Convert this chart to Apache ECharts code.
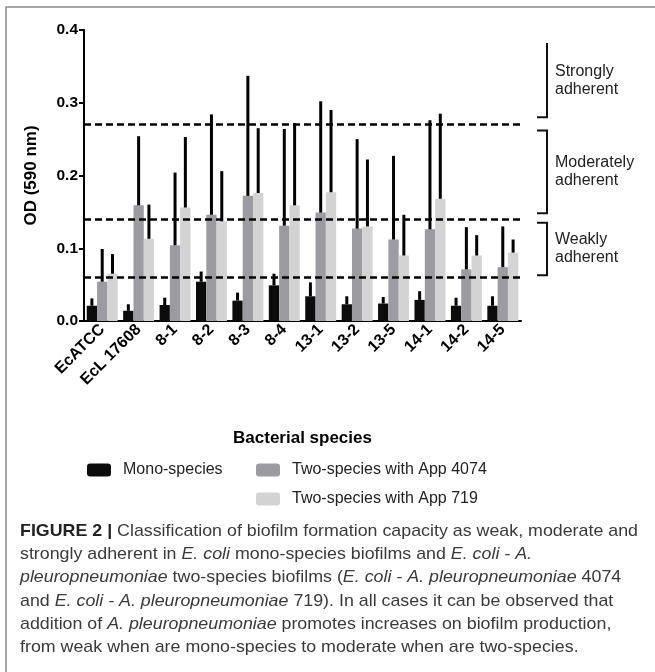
<!DOCTYPE html>
<html>

<head>
    <meta http-equiv="Content-Type" content="text/html; charset=utf-8" />
    <title>Biofilm adherence</title>
    <style type="text/css">
        html,
        body {
            margin: 0;
            padding: 0;
            background: #fff;
        }

        #chart {
            width: 655px;
            height: 672px;
        }
    </style>
    <script src="https://cdn.jsdelivr.net/npm/echarts@6.0.0/dist/echarts.min.js"></script>
</head>

<body>
    <div id="chart"></div>
    <script type="text/javascript">
        // categories on the x axis
        var species = ['EcATCC', 'EcL 17608', '8-1', '8-2', '8-3', '8-4', '13-1', '13-2', '13-5', '14-1', '14-2', '14-5'];
        var seriesNames = ['Mono-species', 'Two-species with App 4074', 'Two-species with App 719'];

        // mean OD and upper error (SD)
        var monoMean = [0.021, 0.014, 0.022, 0.054, 0.028, 0.049, 0.034, 0.023, 0.024, 0.029, 0.021, 0.021];
        var monoSd = [0.010, 0.009, 0.010, 0.014, 0.011, 0.016, 0.019, 0.011, 0.009, 0.012, 0.011, 0.013];
        var app4074Mean = [0.054, 0.159, 0.104, 0.146, 0.172, 0.131, 0.149, 0.127, 0.112, 0.126, 0.071, 0.074];
        var app4074Sd = [0.045, 0.095, 0.100, 0.138, 0.165, 0.133, 0.153, 0.123, 0.115, 0.150, 0.058, 0.056];
        var app719Mean = [0.065, 0.113, 0.156, 0.137, 0.176, 0.159, 0.177, 0.130, 0.090, 0.168, 0.090, 0.094];
        var app719Sd = [0.027, 0.047, 0.097, 0.069, 0.089, 0.113, 0.113, 0.092, 0.056, 0.117, 0.028, 0.018];

        // y axis ticks
        var yTicks = [0.0, 0.1, 0.2, 0.3, 0.4];

        // classification cut-offs (dashed lines)
        var cutoffs = [0.273, 0.141, 0.063];
        // brackets on the right
        var bracketLabels = ['Strongly\nadherent', 'Moderately\nadherent', 'Weakly\nadherent'];
        var bracketTop = [0.382, 0.262, 0.135];
        var bracketBottom = [0.280, 0.148, 0.063];
        var bracketTopFoot = [false, true, true];

        var colors = ['#0c0c0c', '#9c9ba1', '#d3d3d3'];
        var font = '"Liberation Sans", Arial, Helvetica, sans-serif';

        var chart = echarts.init(document.getElementById('chart'));

        // 误差线
        function errorSeries(name, means, sds, offset) {
            var data = [];
            for (var i = 0; i < means.length; i++) {
                data.push([i, means[i], sds[i]]);
            }
            return {
                type: 'custom',
                name: name + ' error',
                silent: true,
                z: 10,
                encode: { x: 0, y: 1 },
                data: data,
                renderItem: function (params, api) {
                    var idx = api.value(0);
                    var mean = api.value(1);
                    var sd = api.value(2);
                    var base = api.coord([idx, mean]);
                    var top = api.coord([idx, mean + sd]);
                    var band = api.size([1, 0])[0];
                    var bw = band * 0.85 / 3;
                    var x = base[0] + offset * bw;
                    return {
                        type: 'line',
                        shape: { x1: x, y1: base[1], x2: x, y2: top[1] },
                        style: { stroke: '#000', lineWidth: 3 }
                    };
                }
            };
        }

        function barSeries(name, means, color, withLines) {
            var s = {
                type: 'bar',
                name: name,
                data: means,
                barGap: '0%',
                barCategoryGap: '15%',
                itemStyle: { color: color },
                silent: true
            };
            if (withLines) {
                s.markLine = {
                    silent: true,
                    symbol: 'none',
                    label: { show: false },
                    lineStyle: { color: '#000', width: 2.5, type: [7, 4] },
                    data: cutoffs.map(function (v) { return { yAxis: v }; })
                };
            }
            return s;
        }

        var option = {
            animation: false,
            textStyle: { fontFamily: font },
            grid: { left: 84, top: 30, right: 134, bottom: 351 },
            legend: [
                {
                    data: [seriesNames[0]],
                    left: 87, top: 462, padding: 0,
                    itemWidth: 24, itemHeight: 13,
                    icon: 'roundRect',
                    textStyle: { fontSize: 16, color: '#222', padding: [0, 0, 0, 7] }
                },
                {
                    data: [seriesNames[1], seriesNames[2]],
                    orient: 'vertical',
                    left: 256, top: 462, padding: 0,
                    itemWidth: 24, itemHeight: 13, itemGap: 13,
                    icon: 'roundRect',
                    textStyle: { fontSize: 16, color: '#222', padding: [0, 0, 0, 7] }
                }
            ],
            xAxis: {
                type: 'category',
                data: species,
                name: 'Bacterial species',
                nameLocation: 'middle',
                nameGap: 109,
                nameMoveOverlap: false,
                nameTextStyle: { fontSize: 17, fontWeight: 'bold', color: '#000' },
                axisLine: { lineStyle: { color: '#000', width: 2 } },
                axisTick: { alignWithLabel: true, length: 5, lineStyle: { color: '#000', width: 2 } },
                axisLabel: { rotate: 45, fontSize: 16, fontWeight: 'bold', color: '#000', margin: 6 }
            },
            yAxis: {
                type: 'value',
                min: yTicks[0],
                max: yTicks[yTicks.length - 1],
                interval: 0.1,
                name: 'OD (590 nm)',
                nameLocation: 'middle',
                nameGap: 44,
                nameTextStyle: { fontSize: 17, fontWeight: 'bold', color: '#000' },
                axisLine: { show: true, lineStyle: { color: '#000', width: 2 } },
                axisTick: { show: true, length: 5, lineStyle: { color: '#000', width: 2 } },
                splitLine: { show: false },
                axisLabel: {
                    fontSize: 15.5, fontWeight: 'bold', color: '#000', margin: 6,
                    formatter: function (v) { return v.toFixed(1); }
                }
            },
            series: [
                barSeries(seriesNames[0], monoMean, colors[0], true),
                barSeries(seriesNames[1], app4074Mean, colors[1], false),
                barSeries(seriesNames[2], app719Mean, colors[2], false),
                errorSeries(seriesNames[0], monoMean, monoSd, -1),
                errorSeries(seriesNames[1], app4074Mean, app4074Sd, 0),
                errorSeries(seriesNames[2], app719Mean, app719Sd, 1)
            ]
        };
        chart.setOption(option);

        // 括号 + 标注
        var graphics = [];
        var bx = 547, footX = 537;
        for (var k = 0; k < bracketLabels.length; k++) {
            var yt = chart.convertToPixel({ yAxisIndex: 0 }, bracketTop[k]);
            var yb = chart.convertToPixel({ yAxisIndex: 0 }, bracketBottom[k]);
            var pts = [];
            if (bracketTopFoot[k]) pts.push([footX, yt]);
            pts.push([bx, yt], [bx, yb], [footX, yb]);
            graphics.push({
                type: 'polyline',
                shape: { points: pts },
                style: { stroke: '#111', lineWidth: 2, fill: null },
                silent: true
            });
            graphics.push({
                type: 'text',
                x: 555,
                y: (yt + yb) / 2,
                style: {
                    text: bracketLabels[k],
                    font: '16px ' + font,
                    fill: '#222',
                    lineHeight: 18,
                    verticalAlign: 'middle',
                    align: 'left'
                },
                silent: true
            });
        }

        // 外框
        graphics.push({
            type: 'polyline',
            shape: { points: [[6, 672], [6, 7], [655, 7]] },
            style: { stroke: '#8a8a8a', lineWidth: 1.5, fill: null },
            silent: true
        });

        // 图注
        var captionLines = [
            '{b|FIGURE 2 |} Classification of biofilm formation capacity as weak, moderate and',
            'strongly adherent in {i|E. coli} mono-species biofilms and {i|E. coli - A.}',
            '{i|pleuropneumoniae} two-species biofilms ({i|E. coli - A. pleuropneumoniae} 4074',
            'and {i|E. coli - A. pleuropneumoniae} 719). In all cases it can be observed that',
            'addition of {i|A. pleuropneumoniae} promotes increases on biofilm production,',
            'from weak when are mono-species to moderate when are two-species.'
        ];
        var capSize = 17;
        var ctx = document.createElement('canvas').getContext('2d');
        ctx.font = 'bold ' + capSize + 'px ' + font;
        var w1 = ctx.measureText('FIGURE 2 |').width;
        ctx.font = capSize + 'px ' + font;
        w1 += ctx.measureText(' Classification of biofilm formation capacity as weak, moderate and').width;
        var sx = 618 / w1;

        var rich = {
            b: { fontSize: capSize, fontFamily: font, fontWeight: 'bold', fill: '#222' },
            i: { fontSize: capSize, fontFamily: font, fontStyle: 'italic', fill: '#3a3a3a' }
        };
        for (var j = 0; j < captionLines.length; j++) {
            graphics.push({
                type: 'text',
                x: 20,
                y: 531 + j * 23.3,
                scaleX: sx,
                style: {
                    text: captionLines[j],
                    rich: rich,
                    fontSize: capSize,
                    fontFamily: font,
                    fill: '#3a3a3a',
                    verticalAlign: 'middle',
                    align: 'left'
                },
                silent: true
            });
        }

        chart.setOption({ graphic: graphics });
    </script>
</body>

</html>
